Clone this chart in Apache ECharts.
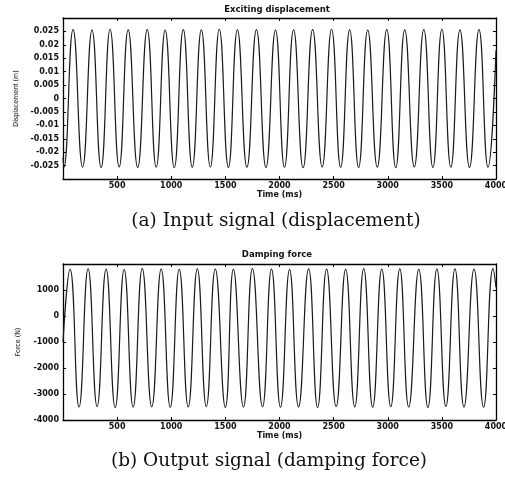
<!DOCTYPE html>
<html>
<head>
<meta charset="utf-8">
<script src="https://cdn.jsdelivr.net/npm/echarts@6/dist/echarts.min.js"></script>
<style>
  html, body { margin: 0; padding: 0; background: #fff; }
  #chart { width: 505px; height: 478px; }
</style>
</head>
<body>
<div id="chart"></div>
<script>
// (a) exciting displacement: times (ms) of the peaks / troughs, values in m
const dispTime = [0, 8,
  93, 181, 268, 352, 435, 519, 602, 690, 778, 861,
  944, 1028, 1111, 1194, 1278, 1361, 1444, 1528, 1611, 1699,
  1787, 1875, 1963, 2046, 2130, 2218, 2306, 2394, 2481, 2565,
  2648, 2731, 2815, 2903, 2991, 3074, 3157, 3245, 3333, 3417,
  3500, 3583, 3667, 3755, 3843, 3926,
  4000]
const dispValue = [-0.022, -0.0256,
  0.0257, -0.0256, 0.0255, -0.0257, 0.0258, -0.0255, 0.0256, -0.0257, 0.0257, -0.0256,
  0.0255, -0.0258, 0.0257, -0.0256, 0.0256, -0.0255, 0.0258, -0.0257, 0.0256, -0.0256,
  0.0257, -0.0257, 0.0255, -0.0256, 0.0256, -0.0258, 0.0257, -0.0255, 0.0258, -0.0256,
  0.0256, -0.0257, 0.0255, -0.0256, 0.0257, -0.0258, 0.0256, -0.0255, 0.0257, -0.0257,
  0.0258, -0.0256, 0.0256, -0.0257, 0.0257, -0.0256,
  0.018]

// (b) damping force: times (ms) of the peaks / troughs, values in N
const forceTime = [0,
  65, 148, 232, 315, 398, 482, 565, 648, 732, 820,
  907, 991, 1074, 1157, 1241, 1324, 1407, 1500, 1574, 1667,
  1750, 1843, 1926, 2009, 2093, 2176, 2269, 2352, 2435, 2523,
  2611, 2695, 2778, 2861, 2945, 3028, 3111, 3194, 3287, 3371,
  3454, 3537, 3621, 3704, 3797, 3885, 3973,
  4000]
const forceValue = [-1000,
  1790, -3500, 1810, -3480, 1800, -3520, 1780, -3500, 1820, -3490,
  1800, -3510, 1790, -3500, 1810, -3480, 1800, -3520, 1790, -3500,
  1820, -3490, 1800, -3510, 1780, -3500, 1810, -3520, 1800, -3480,
  1790, -3500, 1820, -3510, 1800, -3490, 1810, -3500, 1790, -3520,
  1800, -3480, 1810, -3500, 1800, -3510, 1820,
  1100]

// axis ranges / tick steps
const timeRange = [0, 4000, 500]
const dispRange = [-0.03, 0.03, 0.005]
const forceRange = [-4000, 2000, 1000]

const labelFont = {
  fontFamily: 'DejaVu Sans',
  fontWeight: 'bold',
  fontSize: 8,
  color: '#111',
}

function makeX(gridIndex, pos) {
  const main = pos === 'bottom'
  return {
    gridIndex,
    type: 'value',
    position: pos,
    min: timeRange[0],
    max: timeRange[1],
    interval: timeRange[2],
    axisLine: { onZero: false, lineStyle: { color: '#000', width: 1.3 } },
    axisTick: { show: true, inside: true, length: 3, lineStyle: { color: '#000' } },
    axisLabel: {
      show: main,
      margin: 3,
      showMinLabel: false,
      formatter: (v) => String(v),
      ...labelFont,
    },
    splitLine: { show: false },
    name: main ? 'Time (ms)' : '',
    nameLocation: 'middle',
    nameGap: 12,
    nameTextStyle: { ...labelFont },
  }
}

function makeY(gridIndex, pos, range, name, fmt) {
  const main = pos === 'left'
  return {
    gridIndex,
    type: 'value',
    position: pos,
    min: range[0],
    max: range[1],
    interval: range[2],
    axisLine: { onZero: false, lineStyle: { color: '#000', width: 1.3 } },
    axisTick: { show: true, inside: true, length: 3, lineStyle: { color: '#000' } },
    axisLabel: {
      show: main,
      margin: 4,
      showMinLabel: fmt === 'force',
      showMaxLabel: false,
      formatter: (v) => String(+v.toFixed(4)),
      ...labelFont,
    },
    splitLine: { show: false },
    name: main ? name : '',
    nameLocation: 'middle',
    nameRotate: 90,
    nameGap: 41,
    nameTextStyle: { fontFamily: 'DejaVu Sans Condensed', fontSize: 7, color: '#111' },
  }
}

const textBits = [
  { text: 'Exciting displacement', x: 277, y: 10, font: 'bold 8.5px "DejaVu Sans"' },
  { text: 'Damping force', x: 277, y: 255, font: 'bold 8.5px "DejaVu Sans"' },
  { text: '(a) Input signal (displacement)', x: 276, y: 221, font: '18.5px "DejaVu Serif"' },
  { text: '(b) Output signal (damping force)', x: 269, y: 461, font: '18.5px "DejaVu Serif"' },
]

const options = {
  animation: false,
  backgroundColor: '#fff',
  grid: [
    { left: 63, top: 18, right: 9, height: 161, outerBoundsMode: 'none', containLabel: false },
    { left: 63, top: 264, right: 9, height: 156, outerBoundsMode: 'none', containLabel: false },
  ],
  xAxis: [makeX(0, 'bottom'), makeX(0, 'top'), makeX(1, 'bottom'), makeX(1, 'top')],
  yAxis: [
    makeY(0, 'left', dispRange, 'Displacement (m)', 'disp'),
    makeY(0, 'right', dispRange, '', 'disp'),
    makeY(1, 'left', forceRange, 'Force (N)', 'force'),
    makeY(1, 'right', forceRange, '', 'force'),
  ],
  graphic: textBits.map((t) => ({
    type: 'text',
    x: t.x,
    y: t.y,
    style: {
      text: t.text,
      font: t.font,
      fill: '#111',
      align: 'center',
      verticalAlign: 'middle',
      textAlign: 'center',
      textVerticalAlign: 'middle',
    },
  })),
  series: [
    {
      type: 'line',
      xAxisIndex: 0,
      yAxisIndex: 0,
      data: dispTime.map((t, i) => [t, dispValue[i]]),
      showSymbol: false,
      smooth: 0.5,
      lineStyle: { color: '#1a1a1a', width: 1.2 },
    },
    {
      type: 'line',
      xAxisIndex: 2,
      yAxisIndex: 2,
      data: forceTime.map((t, i) => [t, forceValue[i]]),
      showSymbol: false,
      smooth: 0.5,
      lineStyle: { color: '#1a1a1a', width: 1.2 },
    },
  ],
}

const dom = document.getElementById('chart')
const chart = echarts.init(dom)
chart.setOption(options)
</script>
</body>
</html>
